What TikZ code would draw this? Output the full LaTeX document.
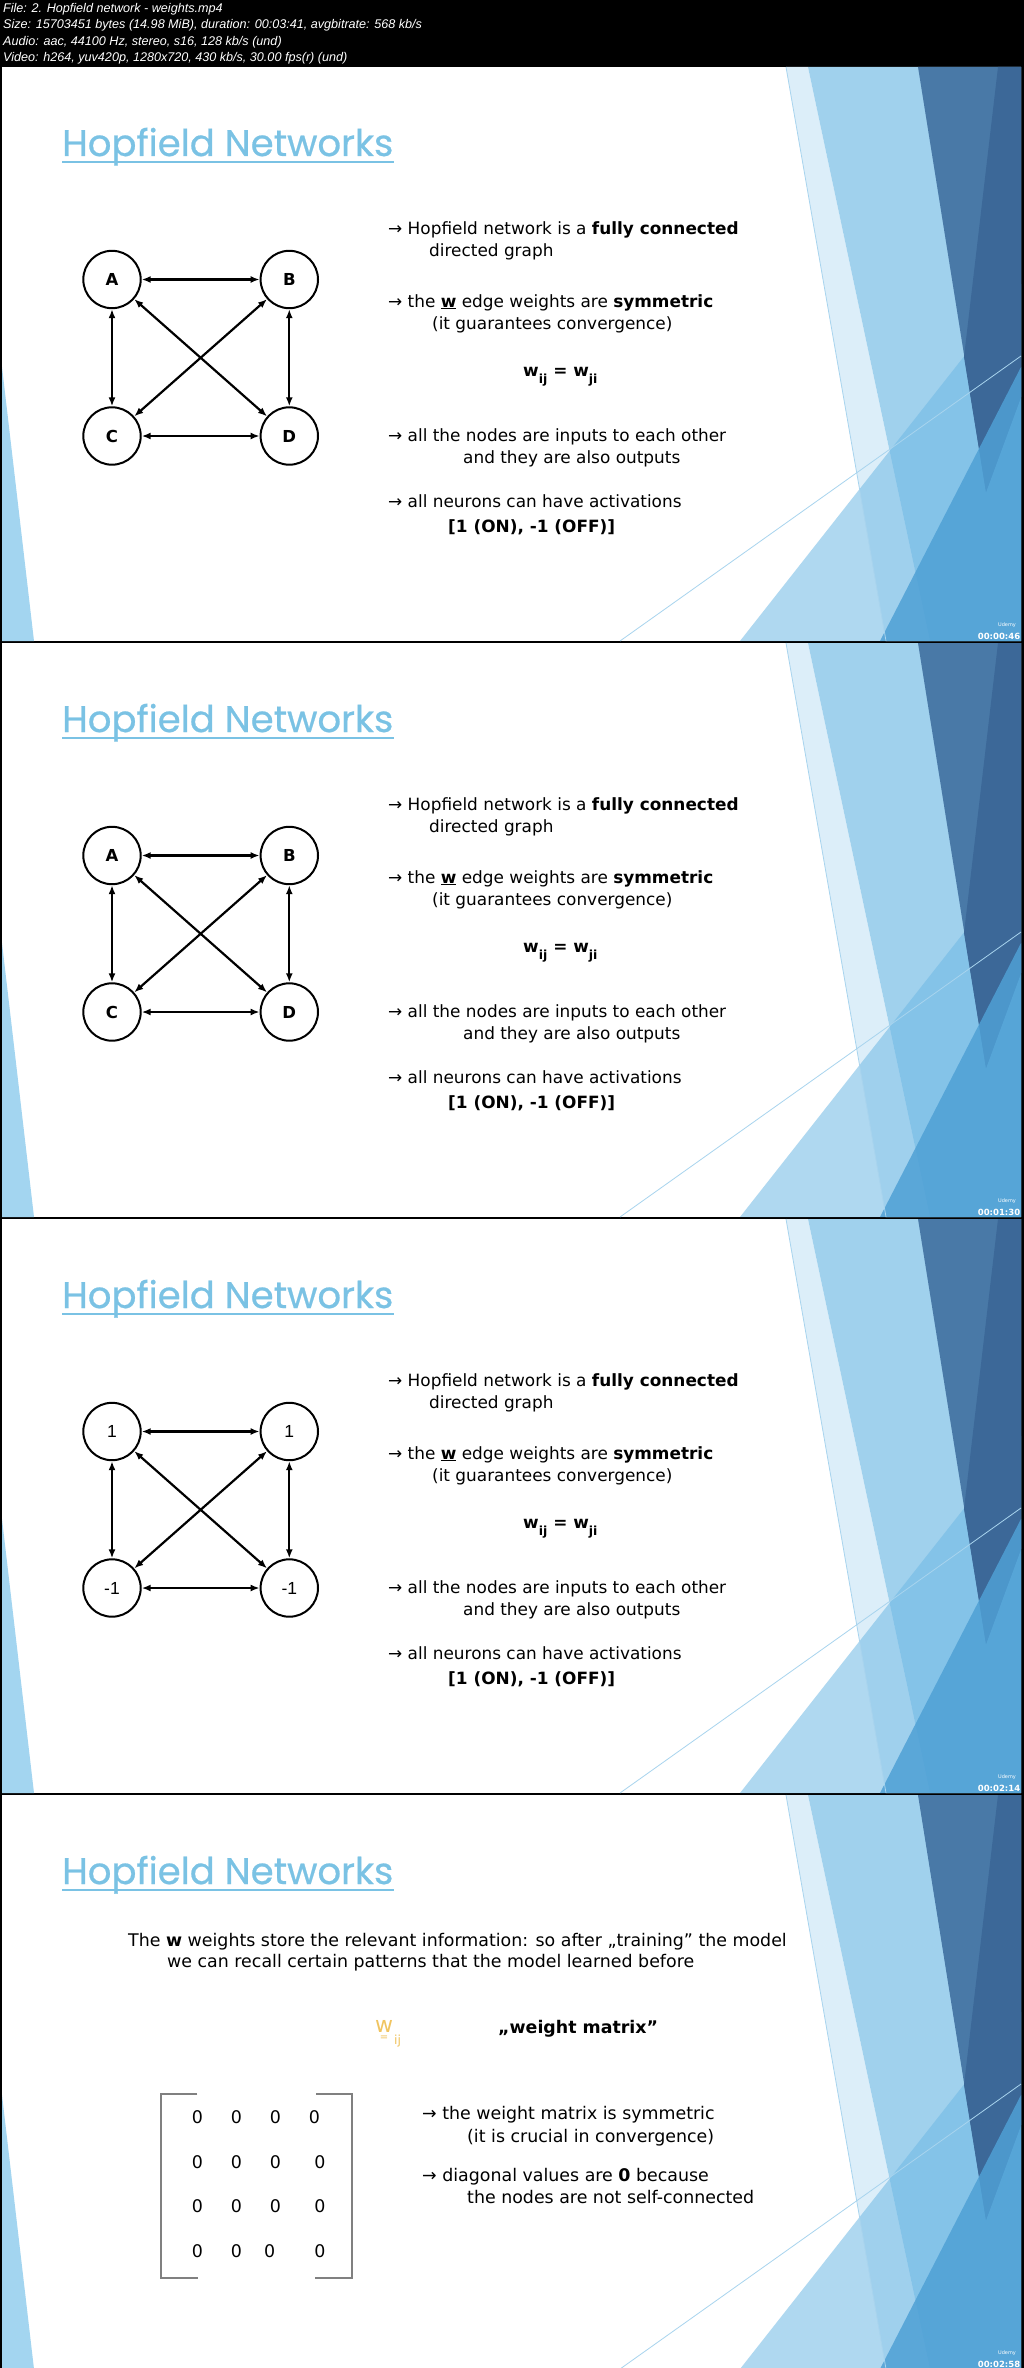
\documentclass[tikz,border=0pt]{standalone}
\usepackage{fontspec}
\setmainfont{DejaVu Sans}
\newfontfamily\titlefont[FakeBold=0.6]{Poppins}
\newfontfamily\headfont{Liberation Sans}
\newfontfamily\numfont{Liberation Sans}
\usepackage{tikz}
\usetikzlibrary{positioning,arrows.meta}
\usepackage{xcolor}
\definecolor{titleblue}{RGB}{122,194,228}
\definecolor{bgpale}{RGB}{220,238,249}
\definecolor{bglight}{RGB}{160,209,237}
\definecolor{bgmid}{RGB}{110,184,228}
\definecolor{bgsteel}{RGB}{73,121,167}
\definecolor{bgdark}{RGB}{60,104,152}
\definecolor{bgbright}{RGB}{79,160,213}
\definecolor{bgline}{RGB}{168,212,238}
\definecolor{bgleft}{RGB}{163,213,240}
\definecolor{wyellow}{RGB}{240,196,96}
\definecolor{brackgray}{RGB}{128,128,128}
\newcommand{\lowidx}[1]{\raisebox{-7pt}{\fontsize{12.5}{12.5}\selectfont #1}}

\begin{document}
\begin{tikzpicture}[x=1pt,y=-1pt,
  neuron/.style={circle,draw,line width=2pt,minimum size=57.4pt,inner sep=0pt,font=\bfseries\fontsize{16.5}{16}\selectfont},
  neuronnum/.style={neuron,font=\numfont\fontsize{17.5}{17}\selectfont},
  link/.style={{Latex[length=9pt,width=7pt]}-{Latex[length=9pt,width=7pt]},line width=2.2pt},
  txt/.style={anchor=base west,inner sep=0pt,font=\fontsize{16.9}{20}\selectfont},
  txtb/.style={anchor=base west,inner sep=0pt,font=\fontsize{17.4}{20}\selectfont},
  ttl/.style={anchor=base west,inner sep=0pt,text=titleblue,font=\titlefont\fontsize{37}{40}\selectfont},
  head/.style={anchor=base west,inner sep=0pt,text=white,font=\headfont\itshape\fontsize{12.6}{14}\selectfont},
  stamp/.style={inner sep=0pt,text=white,font=\bfseries\fontsize{8.5}{9}\selectfont}]
\useasboundingbox (0,0) rectangle (1024,2368);
\fill[black] (0,0) rectangle (1024,2368);

\node[head] (hd1) at (3,12.7) {File: 2. Hopfield network - weights.mp4};
\node[head] (hd2) at (3,29) {Size: 15703451 bytes (14.98 MiB), duration: 00:03:41, avgbitrate: 568 kb/s};
\node[head] (hd3) at (3,45.5) {Audio: aac, 44100 Hz, stereo, s16, 128 kb/s (und)};
\node[head] (hd4) at (3,62) {Video: h264, yuv420p, 1280x720, 430 kb/s, 30.00 fps(r) (und)};

\foreach \T/\clock in {67/00:00:46,643/00:01:30,1219/00:02:14,1795/00:02:58}{
  \begin{scope}[shift={(0,\T)}]
    \fill[white] (2,0) rectangle (1021,574);
    \fill[bgpale] (786,0) -- (808,0) -- (930,574) -- (886,574) -- cycle;
    \fill[bglight] (808,0) -- (1021,0) -- (1021,574) -- (930,574) -- cycle;
    \fill[bgmid,opacity=.55] (740,574) -- (1021,217) -- (1021,574) -- cycle;
    \fill[bgsteel] (918,0) -- (1021,0) -- (1021,330) -- (986,425) -- cycle;
    \fill[bgdark] (998,0) -- (1021,0) -- (1021,330) -- (986,425) -- (964,290) -- cycle;
    \fill[bgbright,opacity=.85] (1021,300) -- (1021,574) -- (880,574) -- cycle;
    \draw[bgline,line width=.8pt] (786,0) -- (886,574);
    \draw[bgline,line width=.8pt] (620,574) -- (1021,289);
    \fill[bgleft] (2,300) -- (2,574) -- (34,574) -- cycle;
    \node[ttl] (ttl\T) at (62,89) {Hopfield Networks};
    \draw[titleblue,line width=2.6pt] ([yshift=-6pt]ttl\T.base west) -- ([yshift=-6pt]ttl\T.base east);
    \node[stamp,font=\fontsize{5}{5}\selectfont] (logo\T) at (1007,558) {Udemy};
    \node[stamp] (clk\T) at (999,569.5) {\clock};
  \end{scope}
}

\foreach \T/\p/\st/\la/\lb/\lc/\ld in {67/a/neuron/A/B/C/D,643/b/neuron/A/B/C/D,1219/c/neuronnum/1/1/-1/-1}{
  \begin{scope}[shift={(0,\T)}]
    \node[\st] (\p-A) at (112,212.5) {\la};
    \node[\st] (\p-B) at (289.3,212.5) {\lb};
    \node[\st] (\p-C) at (112,369) {\lc};
    \node[\st] (\p-D) at (289.3,369) {\ld};
    \draw[link] (\p-A) -- (\p-B);
    \draw[link] (\p-C) -- (\p-D);
    \draw[link] (\p-A) -- (\p-C);
    \draw[link] (\p-B) -- (\p-D);
    \draw[link] (\p-A) -- (\p-D);
    \draw[link] (\p-B) -- (\p-C);
    \node[txt] (\p-t1) at (388,167) {→ Hopfield network is a \textbf{fully connected}};
    \node[txt] (\p-t2) at (429,189) {directed graph};
    \node[txt] (\p-t3) at (388,240) {→ the \underline{\textbf{w}} edge weights are \textbf{symmetric}};
    \node[txt] (\p-t4) at (432,262) {(it guarantees convergence)};
    \node[txt] (\p-t5) at (523,309) {\textbf{w\lowidx{ij} = w\lowidx{ji}}};
    \node[txt] (\p-t6) at (388,374) {→ all the nodes are inputs to each other};
    \node[txt] (\p-t7) at (463,396) {and they are also outputs};
    \node[txt] (\p-t8) at (388,440) {→ all neurons can have activations};
    \node[txt] (\p-t9) at (448,465) {\textbf{[1 (ON), -1 (OFF)]}};
  \end{scope}
}

\begin{scope}[shift={(0,1795)}]
  \node[txtb] (d-t1) at (128,151) {The \textbf{w} weights store the relevant information: so after „training” the model};
  \node[txtb] (d-t2) at (167,172) {we can recall certain patterns that the model learned before};
  \node[anchor=base west,inner sep=0pt,text=wyellow,font=\fontsize{22}{22}\selectfont] (d-w) at (375,237) {w};
  \node[inner sep=0pt,text=wyellow,font=\fontsize{10}{10}\selectfont] (d-eq) at (384,243) {=};
  \node[anchor=base west,inner sep=0pt,text=wyellow,font=\fontsize{12.5}{12.5}\selectfont] (d-ij) at (394,249) {ij};
  \node[txtb] (d-wm) at (498,238) {\textbf{„weight matrix”}};
  \draw[brackgray,line width=1.8pt] (197.3,299.3) -- (160.7,299.3) -- (160.7,482.7) -- (198.3,482.7);
  \draw[brackgray,line width=1.8pt] (316,299.3) -- (352.3,299.3) -- (352.3,482.7) -- (315,482.7);
  \foreach \x/\y/\n in {197.3/328.3/11,236.3/328.3/12,275.3/328.3/13,314.3/328.3/14,
                        197.3/373.3/21,236.3/373.3/22,275.3/373.3/23,320/373.3/24,
                        197.3/417.7/31,236.3/417.7/32,275.3/417.7/33,320/417.7/34,
                        197.3/462.3/41,236.3/462.3/42,269.7/462.3/43,320/462.3/44}
    \node[anchor=base,inner sep=0pt,font=\fontsize{17.4}{20}\selectfont] (m\n) at (\x,\y) {0};
  \node[txtb] (d-t3) at (422,324) {→ the weight matrix is symmetric};
  \node[txtb] (d-t4) at (467,347) {(it is crucial in convergence)};
  \node[txtb] (d-t5) at (422,386) {→ diagonal values are \textbf{0} because};
  \node[txtb] (d-t6) at (467,408) {the nodes are not self-connected};
\end{scope}
\end{tikzpicture}
\end{document}
